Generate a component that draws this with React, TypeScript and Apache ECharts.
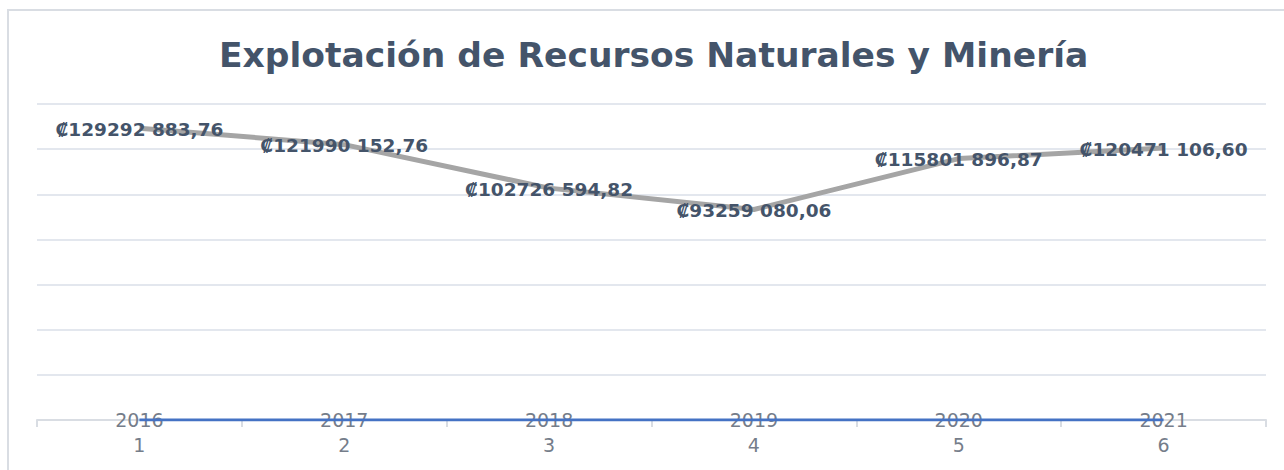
import React, { useEffect, useRef } from "react";
import * as echarts from "echarts";

const categories = ["2016\n1", "2017\n2", "2018\n3", "2019\n4", "2020\n5", "2021\n6"];
const amounts = [129292883.76, 121990152.76, 102726594.82, 93259080.06, 115801896.87, 120471106.6];
const amountLabels = ["₡129292 883,76", "₡121990 152,76", "₡102726 594,82", "₡93259 080,06", "₡115801 896,87", "₡120471 106,60"];
const years = [2016, 2017, 2018, 2019, 2020, 2021];
const titleText = "Explotación de Recursos Naturales y Minería";

export default function App() {
  const ref = useRef<HTMLDivElement>(null);
  useEffect(() => {
    const chart = echarts.init(ref.current!, null, { renderer: "svg" });
    chart.setOption({
      animation: false,
      backgroundColor: "#ffffff",
      title: {
        text: titleText,
        left: 214,
        top: 32,
        textStyle: { fontFamily: "DejaVu Sans", fontWeight: "bold", fontSize: 34.5, color: "#44546a" },
      },
      graphic: [
        {
          type: "rect",
          shape: { x: 8, y: 10, width: 1300, height: 500 },
          style: { fill: "none", stroke: "#d9dde3", lineWidth: 2 },
          z: -1,
        },
      ],
      grid: { left: 37, right: 18, top: 104, bottom: 50 },
      xAxis: {
        type: "category",
        data: categories,
        boundaryGap: true,
        axisLine: { lineStyle: { color: "#d9dde3", width: 2 } },
        axisTick: { show: true, length: 7, lineStyle: { color: "#d9dde3", width: 2 } },
        axisLabel: {
          margin: -13,
          color: "#757d8a",
          fontFamily: "DejaVu Sans",
          fontSize: 19,
          lineHeight: 25,
        },
      },
      yAxis: {
        type: "value",
        min: 0,
        max: 140000000,
        interval: 20000000,
        axisLabel: { show: false },
        axisLine: { show: false },
        axisTick: { show: false },
        splitLine: { lineStyle: { color: "#e3e7ee", width: 2 } },
      },
      series: [
        {
          type: "line",
          data: amounts,
          symbol: "circle",
          symbolSize: 1,
          itemStyle: { color: "rgba(0,0,0,0)" },
          lineStyle: { color: "#a5a5a5", width: 5 },
          label: {
            show: true,
            position: "top",
            distance: 0,
            offset: [0, 11],
            formatter: (p: any) => amountLabels[p.dataIndex],
            fontFamily: "DejaVu Sans",
            fontWeight: "bold",
            fontSize: 18.5,
            color: "#44546a",
          },
          z: 3,
        },
        {
          type: "line",
          data: years,
          symbol: "none",
          lineStyle: { color: "#4472c4", width: 3 },
          z: 2,
        },
      ],
    });
    return () => chart.dispose();
  }, []);
  return <div ref={ref} style={{ position: "absolute", left: 0, top: 0, width: 1284, height: 470 }} />;
}
